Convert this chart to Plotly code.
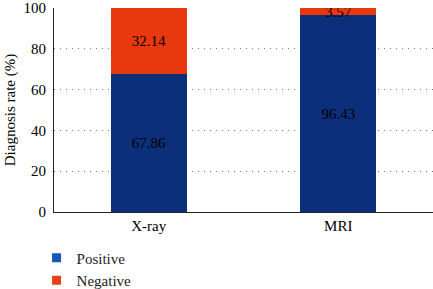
import plotly.graph_objects as go

categories = ["X-ray", "MRI"]
positive = [67.86, 96.43]
negative = [32.14, 3.57]
y_ticks = [0, 20, 40, 60, 80, 100]

FONT = "Liberation Serif, DejaVu Serif, serif"
BAR_POS = "#0b2f7a"
BAR_NEG = "#e8380d"
LEG_POS = "#1658b8"
LEG_NEG = "#e8401a"

fig = go.Figure()
fig.add_trace(go.Bar(x=categories, y=positive, name="Positive", marker_color=BAR_POS,
                     marker_line_width=0, text=[f"{v:.2f}" for v in positive],
                     textposition="inside", insidetextanchor="middle", constraintext="none",
                     textfont=dict(family=FONT, size=15, color="black"), width=0.4,
                     showlegend=False))
fig.add_trace(go.Bar(x=categories, y=negative, name="Negative", marker_color=BAR_NEG,
                     marker_line_width=0, text=[f"{v:.2f}" for v in negative],
                     textposition="inside", insidetextanchor="middle", constraintext="none",
                     textfont=dict(family=FONT, size=15, color="black"), width=0.4,
                     showlegend=False))
# legend entries
fig.add_trace(go.Scatter(x=[None], y=[None], mode="markers", name="Positive",
                         marker=dict(symbol="square", size=9, color=LEG_POS)))
fig.add_trace(go.Scatter(x=[None], y=[None], mode="markers", name="Negative",
                         marker=dict(symbol="square", size=9, color=LEG_NEG)))

fig.update_layout(
    barmode="stack",
    width=433, height=289,
    margin=dict(l=54, r=0, t=8, b=77, autoexpand=False),
    paper_bgcolor="white", plot_bgcolor="white",
    font=dict(family=FONT, size=14, color="black"),
    showlegend=True,
    legend=dict(x=-0.046, y=-0.145, xanchor="left", yanchor="top", orientation="v",
                traceorder="normal",
                font=dict(family=FONT, size=15, color="#222"), tracegroupgap=0,
                itemwidth=30, bgcolor="rgba(0,0,0,0)"),
    xaxis=dict(range=[-0.5, 1.5], showline=True, linecolor="#222", linewidth=1,
               ticks="", tickfont=dict(family=FONT, size=15), showgrid=False, zeroline=False),
    yaxis=dict(range=[0, 100], tickvals=y_ticks, showline=True, linecolor="#222", linewidth=1,
               ticks="", tickfont=dict(family=FONT, size=15), showgrid=True, gridcolor="#777",
               griddash="1px,5px", gridwidth=1, zeroline=False, ticklabelstandoff=4,
               title=dict(text="Diagnosis rate (%)", font=dict(family=FONT, size=15), standoff=4)),
)

fig.write_html("out.html", config={"displayModeBar": False},
               post_script="document.body.style.margin='0';")
